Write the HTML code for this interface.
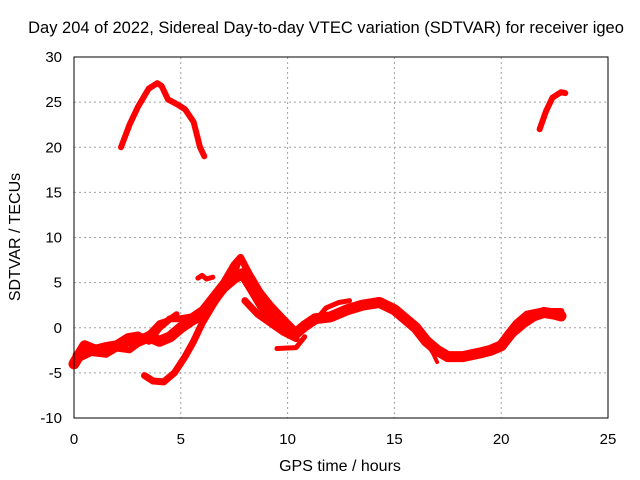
<!DOCTYPE html>
<html><head><meta charset="utf-8"><style>
body{margin:0;background:#fff}
svg{display:block;font-family:"Liberation Sans",sans-serif}
</style></head><body>
<svg id="chart" width="640" height="480" viewBox="0 0 640 480">
<rect width="640" height="480" fill="#fff"/>
<text x="326" y="33" font-size="16.5" text-anchor="middle" fill="#000">Day 204 of 2022, Sidereal Day-to-day VTEC variation (SDTVAR) for receiver igeo</text>
<g id="grid"></g>
<g id="series"></g>
<rect x="74" y="57" width="534" height="361" fill="none" stroke="#000" stroke-width="1"/>
<g id="ticks"></g>
<text x="340" y="471" font-size="16" text-anchor="middle">GPS time / hours</text>
<text x="20" y="237" font-size="16" text-anchor="middle" transform="rotate(-90 20 237)">SDTVAR / TECUs</text>
</svg>
<script>
const xTicks=[0,5,10,15,20,25];
const yTicks=[-10,-5,0,5,10,15,20,25,30];
const seriesTopArc=[[2.2,20],[2.6,22.5],[3,24.5],[3.5,26.5],[3.9,27.1],[4.1,26.8],[4.4,25.3],[4.8,24.8],[5.2,24.2],[5.6,22.8],[5.9,20],[6.1,19]];
const seriesTopRight=[[21.8,22],[22.1,24],[22.4,25.5],[22.8,26.1],[23,26]];
const seriesDip=[[3.3,-5.3],[3.7,-5.9],[4.2,-6],[4.7,-5],[5.2,-3.2],[5.6,-1.5],[6,0.5],[6.5,2.5],[7,4.3],[7.5,6],[7.7,7.5]];
const seriesMain=[[0,-4],[0.5,-2],[1,-2.5],[1.5,-2.2],[2,-2],[2.5,-1.5],[3,-1.5],[3.5,-1],[4,-1.5],[4.5,-1],[5,0],[5.5,0.8],[6,1.5],[6.5,3],[7,4.5],[7.5,5.5],[7.9,6],[8.3,4.5],[8.8,2.5],[9.3,1],[9.8,0],[10.3,-0.8],[10.8,0.2],[11.3,1],[12,1.2],[12.8,2],[13.5,2.5],[14.3,2.8],[15,2],[15.5,1],[16,0],[16.5,-1.5],[17,-2.5],[17.5,-3.2],[18.2,-3.2],[19,-2.8],[19.5,-2.5],[20,-2],[20.5,-0.5],[21,0.5],[21.5,1.3],[22,1.7],[22.5,1.5],[22.8,1.3]];
const seriesUpper=[[0.1,-3],[0.6,-2],[1.5,-2.5],[2.5,-1],[3,-0.8],[3.5,-1.5],[4,0],[4.5,1],[5,1],[5.5,1.2],[6,2],[6.5,3.5],[7,5],[7.5,7],[7.8,7.8],[8.2,6],[8.7,4],[9.2,2.5],[9.8,1],[10.3,-0.2]];
const seriesLow=[[8,3],[8.6,1.5],[9.2,0.5],[9.8,-0.5],[10.4,-1.2]];
const seriesBump=[[5.8,5.5],[6,5.8],[6.2,5.4],[6.5,5.6]];
const seriesFlat=[[9.5,-2.3],[10.4,-2.2],[10.8,-1]];
const seriesSpur=[[11.2,0.5],[11.8,2.2],[12.4,2.8],[12.9,3]];
const seriesSpur2=[[20.2,-1],[20.7,0.5],[21.2,1.5],[21.8,1.8],[22.8,1.8]];
const seriesLowTail=[[16.3,-1],[16.8,-2.8],[17,-3.8]];
const seriesEarly=[[0.2,-3.5],[0.8,-2.8],[1.5,-3],[2,-2.3],[2.6,-2.5],[3,-1.8],[3.6,-0.5],[4,0.5],[4.4,0.8],[4.8,1.5]];

function X(h){return 74+h*(534/25);}
function Y(v){return 57+(30-v)*(361/40);}
const ns="http://www.w3.org/2000/svg";
const grid=document.getElementById('grid'),ticks=document.getElementById('ticks'),ser=document.getElementById('series');
xTicks.forEach(t=>{
  if(t>0&&t<25){const l=document.createElementNS(ns,'line');
  
  
  l.setAttribute('x1',X(t));l.setAttribute('x2',X(t));l.setAttribute('y1',57);l.setAttribute('y2',418);
  l.setAttribute('stroke','#a0a0a0');l.setAttribute('stroke-dasharray','2,3');grid.appendChild(l);}
  const tx=document.createElementNS(ns,'text');
  
  
  tx.setAttribute('x',X(t));tx.setAttribute('y',444);tx.setAttribute('font-size','15');tx.setAttribute('text-anchor','middle');
  tx.textContent=t;ticks.appendChild(tx);
});
yTicks.forEach(t=>{
  if(t>-10&&t<30){const l=document.createElementNS(ns,'line');
  
  
  l.setAttribute('x1',74);l.setAttribute('x2',608);l.setAttribute('y1',Y(t));l.setAttribute('y2',Y(t));
  l.setAttribute('stroke','#a0a0a0');l.setAttribute('stroke-dasharray','2,3');grid.appendChild(l);}
  const tx=document.createElementNS(ns,'text');
  
  
  tx.setAttribute('x',62);tx.setAttribute('y',Y(t)+5);tx.setAttribute('font-size','15');tx.setAttribute('text-anchor','end');
  tx.textContent=t;ticks.appendChild(tx);
});
function draw(data,name,w){
  const p=document.createElementNS(ns,'polyline');
  
  
  p.setAttribute('points',data.map(d=>X(d[0])+','+Y(d[1])).join(' '));
  p.setAttribute('fill','none');p.setAttribute('stroke','#ff0000');p.setAttribute('stroke-width',w);
  p.setAttribute('stroke-linejoin','round');p.setAttribute('stroke-linecap','round');
  ser.appendChild(p);
}
draw(seriesTopArc,'series-top-arc',6);
draw(seriesTopRight,'series-top-right',6);
draw(seriesDip,'series-dip',7);
draw(seriesMain,'series-main',11);
draw(seriesUpper,'series-upper',7);
draw(seriesEarly,'series-early',6);
draw(seriesLow,'series-low',7);
draw(seriesBump,'series-bump',5);
draw(seriesFlat,'series-flat',5);
draw(seriesSpur,'series-spur',5);
draw(seriesSpur2,'series-spur2',7);
draw(seriesLowTail,'series-low-tail',4);
</script>
</body></html>
